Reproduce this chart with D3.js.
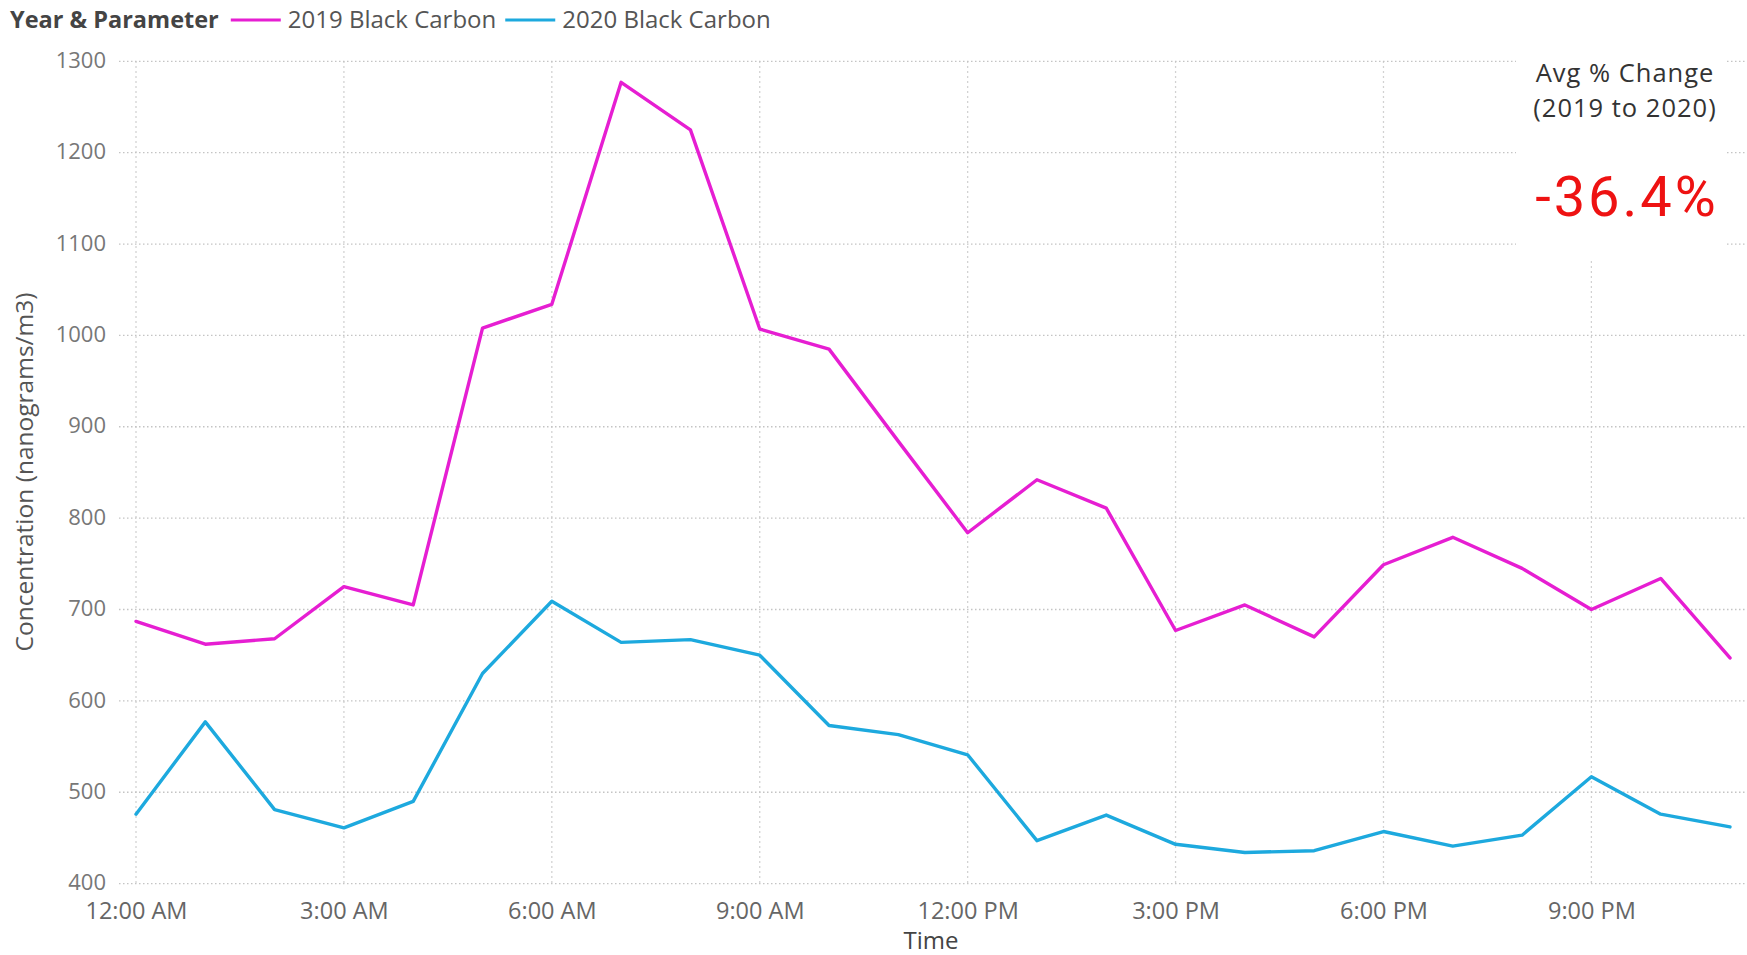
<!DOCTYPE html>
<html>
<head>
<meta charset="utf-8">
<script src="https://cdn.jsdelivr.net/npm/d3@7"></script>
<style>
  html, body { margin: 0; padding: 0; background: #fff; }
  svg { display: block; }
</style>
</head>
<body>
<svg id="chart" width="1747" height="955"></svg>
<script>
// ---- data ----
const hours = [0,1,2,3,4,5,6,7,8,9,10,11,12,13,14,15,16,17,18,19,20,21,22,23];
const bc2019 = [687,662,668,725,705,1008,1034,1277,1225,1007,985,884,784,842,811,677,705,670,749,779,745,700,734,647];
const bc2020 = [476,577,481,461,490,630,709,664,667,650,573,563,541,447,475,443,434,436,457,441,453,517,476,462];
const xTickHours = [0,3,6,9,12,15,18,21];
const xTickLabels = ["12:00 AM","3:00 AM","6:00 AM","9:00 AM","12:00 PM","3:00 PM","6:00 PM","9:00 PM"];
const yTicks = [400,500,600,700,800,900,1000,1100,1200,1300];
const seriesNames = ["2019 Black Carbon","2020 Black Carbon"];
const seriesColors = ["#E61ED2","#1DA9DE"];
const legendTitle = "Year & Parameter";
const avgTitle = ["Avg % Change","(2019 to 2020)"];
const avgValue = "-36.4%";

// ---- layout ----
const svg = d3.select("#chart");
const font = "'Open Sans', 'Noto Sans', sans-serif";
const x = d3.scaleLinear().domain([0,23]).range([136,1730]);
const y = d3.scaleLinear().domain([400,1300]).range([883.6,61.3]);
const gridLeft = 119, gridRight = 1747;

// grid
const grid = svg.append("g");
grid.selectAll("line.h").data(yTicks).enter().append("line")
  .attr("x1", gridLeft).attr("x2", gridRight)
  .attr("y1", d => y(d)).attr("y2", d => y(d))
  .attr("stroke", "#c4c4c4").attr("stroke-width", 1.3).attr("stroke-dasharray", "1.5,2.5");
grid.selectAll("line.v").data(xTickHours).enter().append("line")
  .attr("x1", d => x(d)).attr("x2", d => x(d))
  .attr("y1", y(1300)).attr("y2", y(400))
  .attr("stroke", "#c4c4c4").attr("stroke-width", 1.3).attr("stroke-dasharray", "1.5,3.5");

// y axis
const yAxis = d3.axisLeft(y).tickValues(yTicks).tickFormat(d3.format("d")).tickSize(0).tickPadding(0);
const gy = svg.append("g").attr("transform", "translate(106,0)").call(yAxis);
gy.select(".domain").remove();
gy.selectAll("text").attr("font-family", font).attr("font-size", 22).attr("fill", "#777").attr("dy", "0.28em");

// x axis
const xAxis = d3.axisBottom(x).tickValues(xTickHours).tickFormat((d,i) => xTickLabels[i]).tickSize(0).tickPadding(0);
const gx = svg.append("g").attr("transform", "translate(0,903)").call(xAxis);
gx.select(".domain").remove();
gx.selectAll("text").attr("font-family", font).attr("font-size", 23.5).attr("fill", "#666").attr("dy", "0.68em");

// axis titles
svg.append("text").attr("x", 931).attr("y", 949).attr("text-anchor", "middle")
  .attr("font-family", font).attr("font-size", 24).attr("fill", "#444").text("Time");
svg.append("text").attr("transform", "translate(33,472) rotate(-90)").attr("text-anchor", "middle")
  .attr("font-family", font).attr("font-size", 24.5).attr("fill", "#555").text("Concentration (nanograms/m3)");

// lines
const line = d3.line().x((d,i) => x(hours[i])).y(d => y(d));
[bc2019, bc2020].forEach((s, k) => {
  svg.append("path").datum(s).attr("d", line).attr("fill", "none")
    .attr("stroke", seriesColors[k]).attr("stroke-width", 3.4)
    .attr("stroke-linejoin", "round").attr("stroke-linecap", "round");
});

// card
svg.append("rect").attr("x", 1516).attr("y", 48).attr("width", 211).attr("height", 212).attr("fill", "#fff");
svg.append("text").attr("x", 1625).attr("y", 82).attr("text-anchor", "middle")
  .attr("font-family", font).attr("font-size", 25.5).attr("letter-spacing", 1).attr("fill", "#333").text(avgTitle[0]);
svg.append("text").attr("x", 1625).attr("y", 117).attr("text-anchor", "middle")
  .attr("font-family", font).attr("font-size", 25.5).attr("letter-spacing", 1).attr("fill", "#333").text(avgTitle[1]);
svg.append("text").attr("x", 1627).attr("y", 216).attr("text-anchor", "middle")
  .attr("font-family", "Roboto, sans-serif").attr("font-size", 56).attr("letter-spacing", 3).attr("fill", "#EE1212").text(avgValue);

// legend
const lg = svg.append("g");
const t0 = lg.append("text").attr("x", 10).attr("y", 28).attr("font-family", font).attr("font-weight", "bold")
  .attr("font-size", 23.5).attr("fill", "#444").text(legendTitle);
let cx = 10 + t0.node().getComputedTextLength() + 12;
seriesNames.forEach((n, k) => {
  lg.append("line").attr("x1", cx).attr("x2", cx + 50).attr("y1", 20).attr("y2", 20)
    .attr("stroke", seriesColors[k]).attr("stroke-width", 3);
  const t = lg.append("text").attr("x", cx + 57).attr("y", 28).attr("font-family", font)
    .attr("font-size", 24).attr("fill", "#555").text(n);
  cx += 57 + t.node().getComputedTextLength() + 9;
});
</script>
</body>
</html>
